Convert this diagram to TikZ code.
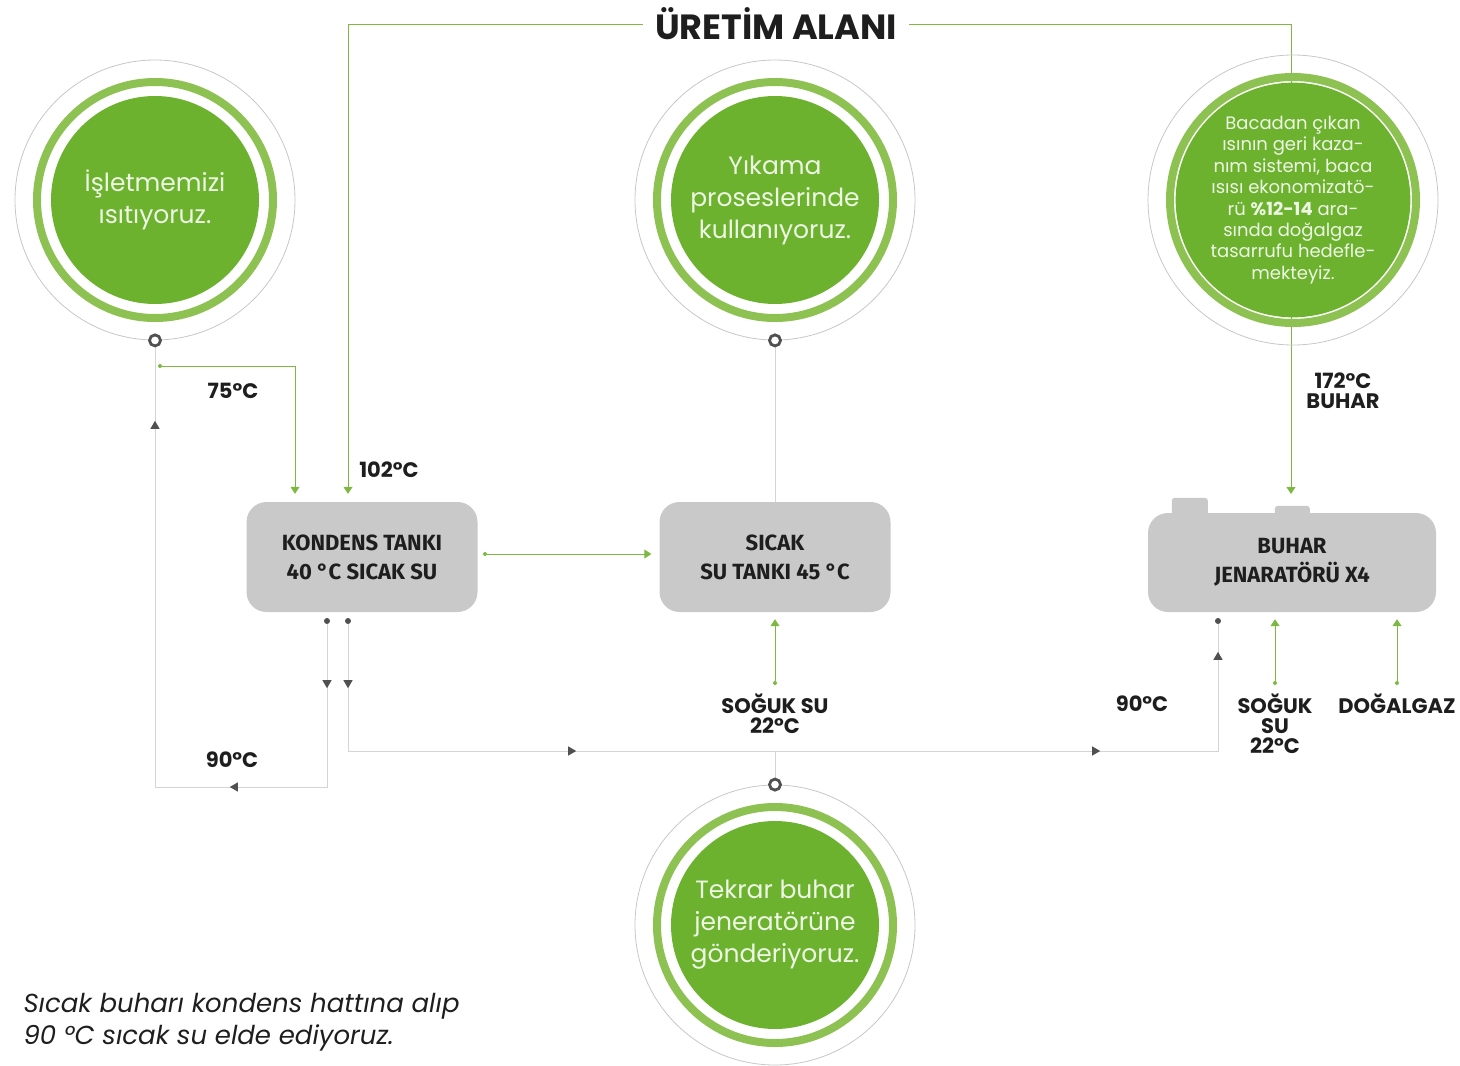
\documentclass[tikz,border=0pt]{standalone}
\usepackage{fontspec}
\setmainfont{Poppins}
\newfontfamily\tankfont{Fira Sans}
\usetikzlibrary{arrows.meta,decorations.markings}
\pgfdeclarelayer{pipes}
\pgfsetlayers{pipes,main}

\definecolor{leafgreen}{HTML}{6CB22F}
\definecolor{ringgreen}{HTML}{8DC253}
\definecolor{pipegreen}{HTML}{7DB941}
\definecolor{pipegrey}{HTML}{D4D4D4}
\definecolor{tipgrey}{HTML}{505050}
\definecolor{tankgrey}{HTML}{C9C9C9}
\definecolor{paletext}{HTML}{EEF6E4}
\definecolor{inkgrey}{HTML}{1E1E1E}

\tikzset{
  tank/.style={rounded corners=20pt, fill=tankgrey, minimum width=231pt, minimum height=110pt,
    align=center, text=inkgrey, font=\tankfont\bfseries\fontsize{22}{29}\selectfont},
  outerline/.style={circle, draw=black!22, line width=0.8pt, inner sep=0pt},
  greenring/.style={circle, draw=ringgreen, line width=8pt, inner sep=0pt},
  greenfill/.style={circle, fill=leafgreen, inner sep=0pt, align=center, text=paletext},
  marker/.style={circle, draw=tipgrey, line width=2.8pt, fill=white, minimum size=11pt, inner sep=0pt},
  templabel/.style={align=center, text=inkgrey, font=\bfseries\fontsize{21}{20}\selectfont},
  titletext/.style={text=inkgrey, inner xsep=12pt, font=\bfseries\fontsize{35}{35}\selectfont},
  greenpipe/.style={draw=pipegreen, line width=1pt},
  greypipe/.style={draw=pipegrey, line width=1pt},
  greentip/.style={-{Triangle[width=9pt,length=7pt]}, shorten >=#1},
  dotg/.style={circle, fill=pipegreen, minimum size=4pt, inner sep=0pt},
  dotk/.style={circle, fill=tipgrey, minimum size=6pt, inner sep=0pt},
}

% outer line, green ring, filled disc
\newcommand{\bubble}[5][]{%
  \node[outerline, minimum size=2*#4] (#2-o) at (#3) {};
  \node[greenring, minimum size=2*#4-44] (#2-r) at (#3) {};
  \node[greenfill, minimum size=2*#4-72, #1] (#2) at (#3) {#5};
}
\def\pipetip{\arrow[color=tipgrey]{Triangle[width=9pt,length=8pt]}}

\begin{document}
\begin{tikzpicture}[x=1pt,y=-1pt]
  \useasboundingbox (0,0) rectangle (1460,1066);

  \node[titletext] (title) at (776,24) {ÜRETİM ALANI};

  % circles
  \bubble[font=\fontsize{25}{32}\selectfont]{isit}{155,200}{140}{İşletmemizi\\ısıtıyoruz.}
  \bubble[font=\fontsize{25}{32}\selectfont]{yikama}{775,200}{140}{Yıkama\\proseslerinde\\kullanıyoruz.}
  \bubble[font=\fontsize{18}{21.4}\selectfont]{baca}{1293,200}{145}{Bacadan çıkan\\ısının geri kaza-\\nım sistemi, baca\\ısısı ekonomizatö-\\rü \textbf{\%12-14} ara-\\sında doğalgaz\\tasarrufu hedefle-\\mekteyiz.}
  \bubble[font=\fontsize{25}{32}\selectfont]{tekrar}{775,925}{140}{Tekrar buhar\\jeneratörüne\\gönderiyoruz.}
  \node[marker] (isit-m) at (isit-o.south) {};
  \node[marker] (yikama-m) at (yikama-o.south) {};
  \node[marker] (tekrar-m) at (tekrar-o.north) {};

  % tanks
  \node[tank] (kondens) at (362,557) {KONDENS TANKI\\40 °C SICAK SU};
  \node[tank] (sicak) at (775,557) {SICAK\\SU TANKI 45 °C};
  \node[tank, minimum width=288pt, minimum height=99pt] (buhar) at (1292,562.5) {BUHAR\\JENARATÖRÜ X4};

  % ports and bends
  \node[dotg] (k75) at (160,366) {};
  \node[dotg] (kout) at (485,554) {};
  \node[dotg] (scold) at (775,683) {};
  \node[dotg] (bcold) at (1275,683) {};
  \node[dotg] (bgas) at (1397,683) {};
  \node[dotk] (kd1) at (327,621) {};
  \node[dotk] (kd2) at (348,621) {};
  \node[dotk] (bd) at (1218,621) {};
  \coordinate (kin1) at ([xshift=-67pt]kondens.north);
  \coordinate (kin2) at ([xshift=-14pt]kondens.north);
  \coordinate (sin) at (sicak.west |- kout);
  \coordinate (bin) at (1291,506);
  \coordinate (bcin) at (bcold |- buhar.south);
  \coordinate (bgin) at (bgas |- buhar.south);
  \coordinate (lc1) at (327,787);
  \coordinate (lc2) at (155,787);
  \coordinate (rc1) at (348,751);
  \coordinate (rc2) at (1218,751);
  \coordinate (mj) at (775,751);

  \begin{pgfonlayer}{pipes}
    \fill[tankgrey, rounded corners=3pt] ([xshift=24pt,yshift=15pt]buhar.north west) rectangle ++(36,20);
    \fill[tankgrey, rounded corners=3pt] ([xshift=127pt,yshift=7pt]buhar.north west) rectangle ++(35,12);
    % green lines
    \draw[greenpipe, greentip=8pt] (title.west) -| (kin2);
    \draw[greenpipe, greentip=12pt] (title.east) -| (bin);
    \draw[greenpipe, greentip=8pt] (k75) -| (kin1);
    \draw[greenpipe, greentip=8pt] (kout) -- (sin);
    \draw[greenpipe, greentip=7pt] (scold) -- (sicak);
    \draw[greenpipe, greentip=7pt] (bcold) -- (bcin);
    \draw[greenpipe, greentip=7pt] (bgas) -- (bgin);
    % grey lines
    \draw[greypipe] (yikama-m) -- (sicak);
    \draw[greypipe] (tekrar-m) -- (mj);
    \draw[greypipe, postaction={decorate}, decoration={markings,
        mark=at position 64pt with {\pipetip},
        mark=at position 260pt with {\pipetip},
        mark=at position 701pt with {\pipetip}}]
      (kd1) -- (lc1) -- (lc2) -- (isit-m);
    \draw[greypipe, postaction={decorate}, decoration={markings,
        mark=at position 64pt with {\pipetip},
        mark=at position 355pt with {\pipetip},
        mark=at position 879pt with {\pipetip},
        mark=at position 1096pt with {\pipetip}}]
      (kd2) -- (rc1) -- (rc2) -- (bd);
  \end{pgfonlayer}

  % labels
  \node[templabel] (t75) at (233,391) {75°C};
  \node[templabel] (t102) at (389,470) {102°C};
  \node[templabel] (t90a) at (232,760) {90°C};
  \node[templabel] (t90b) at (1142,704) {90°C};
  \node[templabel] (tsoguk) at (775,714) {SOĞUK SU\\22°C};
  \node[templabel] (tbuhar) at (1343,391) {172°C\\BUHAR};
  \node[templabel] (tsoguk2) at (1275,724) {SOĞUK\\SU\\22°C};
  \node[templabel] (tgaz) at (1397,704) {DOĞALGAZ};

  \node[anchor=west, align=left, text=inkgrey, font=\itshape\fontsize{26}{32}\selectfont] (note) at (20,1022)
    {Sıcak buharı kondens hattına alıp\\90 °C sıcak su elde ediyoruz.};
\end{tikzpicture}
\end{document}
